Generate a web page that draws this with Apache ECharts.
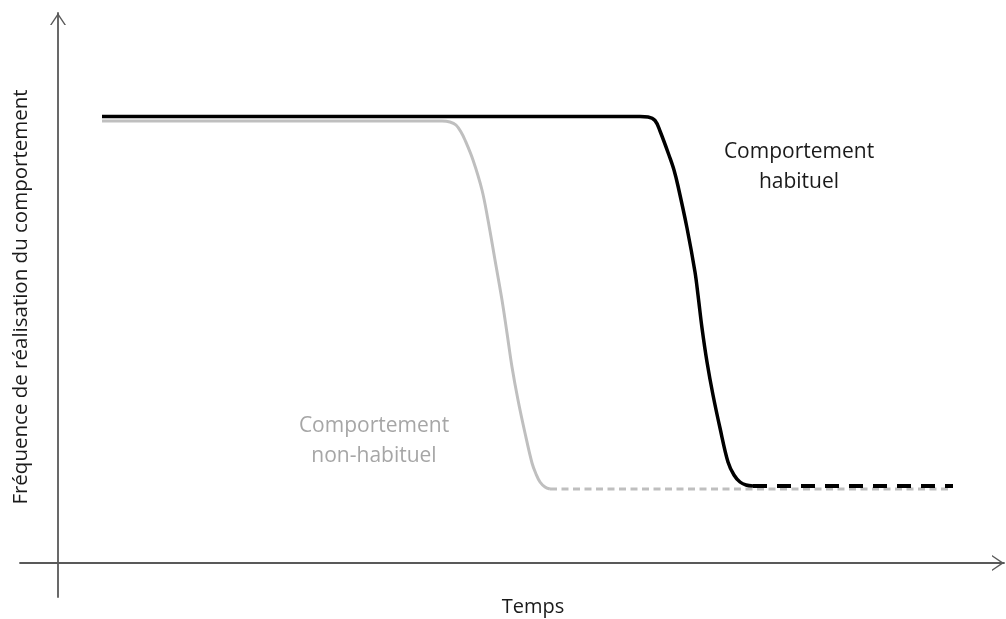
<!DOCTYPE html>
<html>
<head>
<meta charset="utf-8">
<script src="https://cdn.jsdelivr.net/npm/echarts@6/dist/echarts.min.js"></script>
<style>html,body{margin:0;padding:0;background:#fff;}#c{width:1006px;height:619px;}</style>
</head>
<body>
<div id="c"></div>
<script>
// Axis titles
const xName = 'Temps';
const yName = 'Fréquence de réalisation du comportement';

// Black curve (habitual behaviour): [time, frequency]
const habitualSolid = [
  [4.4, 89.3], [58.2, 89.3], [59.0, 89.2], [59.7, 88.5], [60.2, 86.4], [61.2, 81.0],
  [61.6, 78.6], [62.0, 75.4], [62.9, 67.0], [63.7, 58.2], [64.0, 53.6], [64.4, 47.0],
  [64.9, 40.2], [65.5, 33.6], [66.2, 27.0], [67.0, 20.2], [67.6, 17.6], [68.2, 16.2],
  [68.8, 15.6], [69.5, 15.4]
];
const habitualDashed = [[69.5, 15.4], [89.5, 15.4]];

// Grey curve (non-habitual behaviour)
const nonHabitualSolid = [
  [4.4, 88.4], [38.4, 88.4], [39.2, 88.2], [39.8, 87.6], [40.3, 86.2], [40.7, 84.6],
  [41.5, 80.6], [42.4, 74.6], [43.0, 68.6], [43.7, 60.6], [44.4, 52.6], [44.9, 46.0],
  [45.4, 39.2], [46.0, 32.6], [46.7, 26.0], [47.4, 20.0], [47.8, 17.8], [48.2, 16.2],
  [48.7, 15.2], [49.2, 14.8]
];
const nonHabitualDashed = [[49.2, 14.8], [89.4, 14.8]];

// Curve labels: [time, frequency, text]
const habitualLabel = [74.1, 79.2, 'Comportement\nhabituel'];
const nonHabitualLabel = [31.6, 24.4, 'Comportement\nnon-habituel'];

const chevron = 'path://M0,12 L8,0 L16,12 L14.4,12 L8,2.6 L1.6,12 Z';
const FONT = '"Open Sans", "Noto Sans", sans-serif';

const chart = echarts.init(document.getElementById('c'), null, {renderer: 'canvas'});
const axisCommon = {
  type: 'value',
  splitLine: {show: false},
  axisTick: {show: false},
  axisLabel: {show: false},
  axisLine: {
    show: true, onZero: true,
    symbol: ['none', chevron], symbolSize: [16, 12], symbolOffset: [0, -6],
    lineStyle: {color: '#595959', width: 1.8}
  }
};
chart.setOption({
  animation: false,
  backgroundColor: '#fff',
  grid: {left: 20, right: 2, top: 13, bottom: 22, containLabel: false, outerBoundsMode: 'none'},
  xAxis: Object.assign({}, axisCommon, {min: -3.8, max: 94.6}),
  yAxis: Object.assign({}, axisCommon, {min: -6.8, max: 110}),
  graphic: [
    {type: 'text', x: 533, y: 607,
     style: {text: xName, fill: '#1a1a1a', font: '20px ' + FONT, align: 'center', verticalAlign: 'middle'}},
    {type: 'text', x: 21, y: 297, rotation: Math.PI / 2,
     style: {text: yName, fill: '#1a1a1a', font: '20.5px ' + FONT, align: 'center', verticalAlign: 'middle'}}
  ],
  series: [
    {type: 'line', data: nonHabitualSolid, smooth: 0.35, symbol: 'none',
     lineStyle: {color: '#bfbfbf', width: 3}},
    {type: 'line', data: nonHabitualDashed, symbol: 'none',
     lineStyle: {color: '#bfbfbf', width: 3, type: [7, 4.5]}},
    {type: 'line', data: habitualSolid, smooth: 0.35, symbol: 'none',
     lineStyle: {color: '#000', width: 3.5}},
    {type: 'line', data: habitualDashed, symbol: 'none',
     lineStyle: {color: '#000', width: 4, type: [14, 10]}},
    {type: 'scatter', symbolSize: 0, silent: true, itemStyle: {opacity: 1},
     data: [
       {value: [habitualLabel[0], habitualLabel[1]], name: habitualLabel[2],
        label: {color: '#1a1a1a'}},
       {value: [nonHabitualLabel[0], nonHabitualLabel[1]], name: nonHabitualLabel[2],
        label: {color: '#a6a6a6'}}
     ],
     label: {show: true, position: 'inside', formatter: p => p.name,
             fontSize: 21, fontFamily: FONT, lineHeight: 30, align: 'center'}}
  ]
});
</script>
</body>
</html>
